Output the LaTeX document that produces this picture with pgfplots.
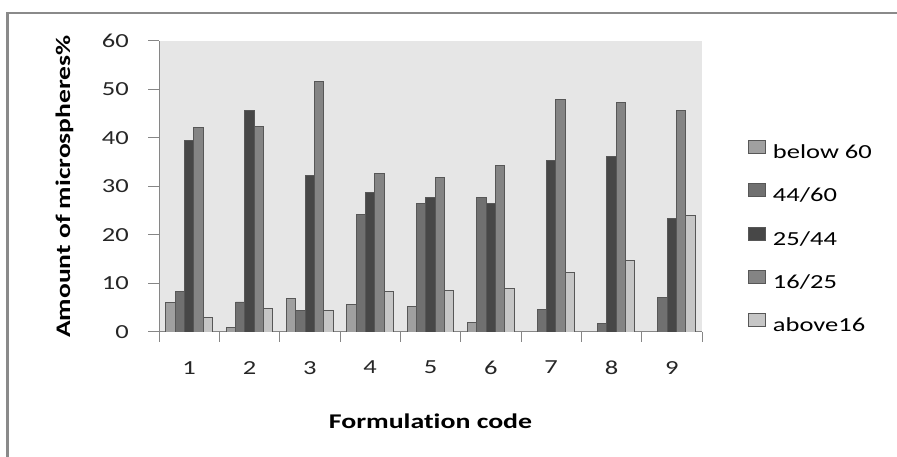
\documentclass[border=0pt]{standalone}
\usepackage{fontspec}
\setmainfont{Carlito}[FakeStretch=1.33, Ligatures=NoCommon]
\usepackage{pgfplots}
\pgfplotsset{compat=1.18}
\definecolor{cA}{HTML}{A0A0A0}
\definecolor{cB}{HTML}{707070}
\definecolor{cC}{HTML}{474747}
\definecolor{cD}{HTML}{848484}
\definecolor{cE}{HTML}{C6C6C6}
\definecolor{edge}{HTML}{575757}
\definecolor{axisgray}{HTML}{868686}
\definecolor{framegray}{HTML}{8A8A8A}
\definecolor{bg}{HTML}{E6E6E6}
\begin{document}
\begin{tikzpicture}
\useasboundingbox (0,0) rectangle (897bp,457bp);
\draw[color=framegray, line width=2.5bp] (7.7bp,0) -- (7.7bp,444bp) -- (897bp,444bp);
\begin{axis}[
  at={(159bp,125bp)}, anchor=south west,
  width=543bp, height=291bp, scale only axis,
  xmin=0.5, xmax=9.5, ymin=0, ymax=60,
  ytick={0,10,...,60},
  xtick={1,...,9},
  minor xtick={0.5,1.5,...,9.5},
  axis lines=left,
  axis line style={-, draw=axisgray, line width=1bp},
  every tick/.style={draw=axisgray, line width=1bp},
  tick align=outside,
  major tick length=11bp,
  minor tick length=10bp,
  major x tick style={draw=none},
  minor x tick style={draw=axisgray},
  axis background/.style={fill=bg},
  /pgf/number format/assume math mode=true,
  ticklabel style={font=\fontsize{20}{24}\selectfont, text=black!85},
  yticklabel style={anchor=east, inner sep=0pt, xshift=-30bp+11bp},
  xticklabel style={anchor=north, inner sep=0pt, yshift=-18bp},
  xlabel={Formulation code},
  ylabel={Amount of microspheres\%},
  xlabel style={at={(axis description cs:0.5,-0.33)}, anchor=base, font=\bfseries\fontsize{21}{25}\selectfont},
  ylabel style={at={(axis description cs:-0.174,0.5)}, anchor=center, font=\bfseries\fontsize{20.8}{24}\selectfont},
  ybar=0pt, bar width=9.33bp,
  every axis plot/.append style={draw=edge, line width=0.8bp},
  legend cell align=left,
  legend image code/.code={\draw[#1] (0bp,0bp) rectangle (17bp,13bp);},
  legend style={at={(axis description cs:1.0847,0.661)}, anchor=north west,
    draw=none, fill=none, inner sep=0pt, row sep=21bp, column sep=7bp,
    font=\fontsize{20}{24}\selectfont,
    nodes={inner xsep=0pt, inner ysep=0pt, text height=14bp, text depth=4bp}},
]
\addplot[fill=cA] coordinates {(1,6.0) (2,1.0) (3,6.9) (4,5.75) (5,5.3) (6,2.05)};
\addplot[fill=cB] coordinates {(1,8.3) (2,6.2) (3,4.5) (4,24.2) (5,26.5) (6,27.7) (7,4.6) (8,1.85) (9,7.2)};
\addplot[fill=cC] coordinates {(1,39.5) (2,45.6) (3,32.3) (4,28.8) (5,27.7) (6,26.5) (7,35.3) (8,36.2) (9,23.5)};
\addplot[fill=cD] coordinates {(1,42.2) (2,42.4) (3,51.6) (4,32.7) (5,31.8) (6,34.4) (7,47.9) (8,47.3) (9,45.6)};
\addplot[fill=cE] coordinates {(1,3.0) (2,4.9) (3,4.5) (4,8.3) (5,8.6) (6,9.0) (7,12.3) (8,14.7) (9,24.0)};
\legend{below 60, 44/60, 25/44, 16/25, above16}
\end{axis}
\end{tikzpicture}
\end{document}
